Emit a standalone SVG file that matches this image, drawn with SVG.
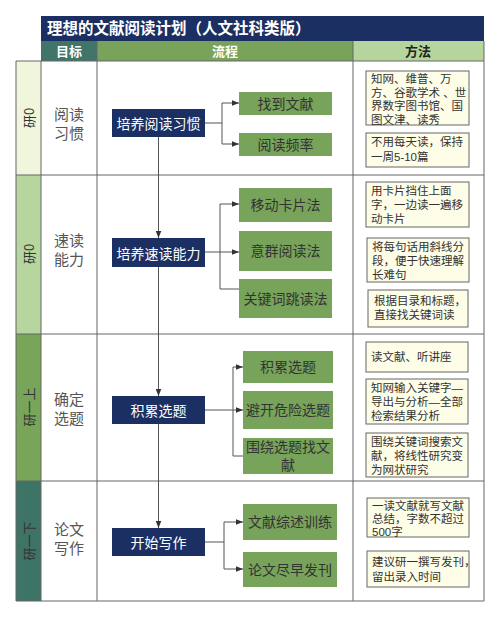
<svg xmlns="http://www.w3.org/2000/svg" width="500" height="618" viewBox="0 0 500 618">
<defs>
<marker id="arr" viewBox="0 0 10 10" refX="10" refY="5" markerWidth="7" markerHeight="7" orient="auto" markerUnits="userSpaceOnUse"><path d="M0,1 L10,5 L0,9 z" fill="#333"/></marker>
<style>
text{font-family:"Noto Sans CJK SC","Noto Sans",sans-serif;}
.grid{stroke:#666;stroke-width:1;fill:none;}
.main rect{fill:#1b2f63;}
.main text{fill:#fff;font-size:14px;text-anchor:middle;dominant-baseline:central;}
.step rect{fill:#77a35a;}
.step text{fill:#333;font-size:14px;text-anchor:middle;dominant-baseline:central;font-family:"Liberation Sans","Noto Sans CJK SC",sans-serif;}
.meth rect{fill:#fdfde8;stroke:#666;stroke-width:1;}
.meth text{fill:#333;font-size:11.5px;font-family:"Liberation Sans","Noto Sans CJK SC",sans-serif;}
.goal{fill:#555;font-size:15px;text-anchor:middle;}
.side{fill:#333;font-size:13px;text-anchor:middle;dominant-baseline:central;}
.conn{stroke:#555;stroke-width:1;fill:none;}
</style>
</defs>
<rect width="500" height="618" fill="#fff"/>
<!-- title & header -->
<g id="title">
<rect x="41" y="16" width="443" height="25" fill="#1b2f63"/>
<text x="47" y="34" fill="#fff" font-size="15.5" font-weight="bold">理想的文献阅读计划（人文社科类版）</text>
</g>
<g id="header">
<rect x="41" y="41" width="56" height="20" fill="#41756a"/>
<rect x="97" y="41" width="256" height="20" fill="#79a35b"/>
<rect x="353" y="41" width="131" height="20" fill="#b6d59c"/>
<text x="69" y="56" fill="#fff" font-size="13" font-weight="bold" text-anchor="middle">目标</text>
<text x="225" y="56" fill="#fff" font-size="13" font-weight="bold" text-anchor="middle">流程</text>
<text x="418" y="56" fill="#222" font-size="13" font-weight="bold" text-anchor="middle">方法</text>
</g>
<!-- side column -->
<g id="side">
<rect x="16" y="61" width="25" height="114" fill="#f0f6dc"/>
<rect x="16" y="175" width="25" height="159" fill="#b7d59e"/>
<rect x="16" y="334" width="25" height="147" fill="#78a55a"/>
<rect x="16" y="481" width="25" height="120" fill="#3e7465"/>
<text class="side" transform="translate(28.5,118) rotate(-90)">研0</text>
<text class="side" transform="translate(28.5,254) rotate(-90)">研0</text>
<text class="side" transform="translate(28.5,407) rotate(-90)">研一上</text>
<text class="side" transform="translate(28.5,541) rotate(-90)">研一下</text>
</g>
<!-- grid -->
<g id="grid" class="grid">
<line x1="16" y1="61" x2="484" y2="61"/>
<line x1="16" y1="175" x2="484" y2="175"/>
<line x1="16" y1="334" x2="484" y2="334"/>
<line x1="16" y1="481" x2="484" y2="481"/>
<line x1="16" y1="601" x2="484" y2="601"/>
<line x1="16" y1="61" x2="16" y2="601"/>
<line x1="41" y1="61" x2="41" y2="601"/>
<line x1="97" y1="41" x2="97" y2="601"/>
<line x1="353" y1="41" x2="353" y2="601"/>
<line x1="484" y1="41" x2="484" y2="601"/>
</g>
<!-- goals -->
<g id="goals">
<text class="goal" x="69" y="120">阅读</text><text class="goal" x="69" y="139">习惯</text>
<text class="goal" x="69" y="246">速读</text><text class="goal" x="69" y="265">能力</text>
<text class="goal" x="69" y="405">确定</text><text class="goal" x="69" y="424">选题</text>
<text class="goal" x="69" y="535">论文</text><text class="goal" x="69" y="554">写作</text>
</g>
<!-- connectors -->
<g id="connectors" class="conn">
<line x1="158.5" y1="137" x2="158.5" y2="238" marker-end="url(#arr)"/>
<line x1="158.5" y1="267" x2="158.5" y2="396" marker-end="url(#arr)"/>
<line x1="158.5" y1="424" x2="158.5" y2="528" marker-end="url(#arr)"/>
<polyline points="205,123 222,123 222,103 239,103" marker-end="url(#arr)"/>
<polyline points="222,123 222,144 239,144" marker-end="url(#arr)"/>
<polyline points="205,252 239,252" marker-end="url(#arr)"/>
<polyline points="220,252 220,204 239,204" marker-end="url(#arr)"/>
<polyline points="220,252 220,289 239,289"/>
<polyline points="205,410 243,410" marker-end="url(#arr)"/>
<polyline points="233,410 233,367 243,367" marker-end="url(#arr)"/>
<polyline points="233,410 233,456 243,456"/>
<polyline points="205,542 224,542 224,522 243,522" marker-end="url(#arr)"/>
<polyline points="224,542 224,569 243,569" marker-end="url(#arr)"/>
</g>
<!-- main nodes -->
<g id="n1" class="main"><rect x="112" y="109" width="93" height="28"/><text x="158.5" y="123">培养阅读习惯</text></g>
<g id="n2" class="main"><rect x="112" y="238" width="93" height="29"/><text x="158.5" y="252.5">培养速读能力</text></g>
<g id="n3" class="main"><rect x="112" y="396" width="93" height="28"/><text x="158.5" y="410">积累选题</text></g>
<g id="n4" class="main"><rect x="112" y="528" width="93" height="28"/><text x="158.5" y="542">开始写作</text></g>
<!-- steps -->
<g id="s1a" class="step"><rect x="239" y="92" width="93" height="23"/><text x="285.5" y="103.5">找到文献</text></g>
<g id="s1b" class="step"><rect x="239" y="133" width="93" height="23"/><text x="285.5" y="144.5">阅读频率</text></g>
<g id="s2a" class="step"><rect x="239" y="188" width="93" height="34"/><text x="285.5" y="205">移动卡片法</text></g>
<g id="s2b" class="step"><rect x="239" y="231" width="93" height="40"/><text x="285.5" y="251">意群阅读法</text></g>
<g id="s2c" class="step"><rect x="239" y="279" width="93" height="39"/><text x="285.5" y="298.5">关键词跳读法</text></g>
<g id="s3a" class="step"><rect x="243" y="351" width="90" height="32"/><text x="288" y="367">积累选题</text></g>
<g id="s3b" class="step"><rect x="243" y="391" width="90" height="38"/><text x="288" y="410">避开危险选题</text></g>
<g id="s3c" class="step"><rect x="243" y="438" width="90" height="36"/><text x="288" y="447">围绕选题找文</text><text x="288" y="465">献</text></g>
<g id="s4a" class="step"><rect x="243" y="504" width="94" height="36"/><text x="290" y="522">文献综述训练</text></g>
<g id="s4b" class="step"><rect x="243" y="552" width="94" height="35"/><text x="290" y="569.5">论文尽早发刊</text></g>
<!-- methods -->
<g id="m1a" class="meth"><rect x="366" y="71" width="103" height="54"/>
<text x="371" y="83">知网、维普、万</text><text x="371" y="96.5">方、谷歌学术 、世</text><text x="371" y="110">界数字图书馆、国</text><text x="371" y="123.5">图文津、读秀</text></g>
<g id="m1b" class="meth"><rect x="366" y="133" width="103" height="34"/>
<text x="371" y="146">不用每天读，保持</text><text x="371" y="161">一周5-10篇</text></g>
<g id="m2a" class="meth"><rect x="366" y="182" width="103" height="45"/>
<text x="371" y="195">用卡片挡住上面</text><text x="371" y="209">字，一边读一遍移</text><text x="371" y="223">动卡片</text></g>
<g id="m2b" class="meth"><rect x="367" y="238" width="102" height="44"/>
<text x="372" y="251">将每句话用斜线分</text><text x="372" y="265">段，便于快速理解</text><text x="372" y="279">长难句</text></g>
<g id="m2c" class="meth"><rect x="368" y="290" width="100" height="37"/>
<text x="374" y="305">根据目录和标题，</text><text x="374" y="319">直接找关键词读</text></g>
<g id="m3a" class="meth"><rect x="366" y="342" width="102" height="30"/>
<text x="371" y="361">读文献、听讲座</text></g>
<g id="m3b" class="meth"><rect x="366" y="379" width="102" height="45"/>
<text x="371" y="392">知网输入关键字—</text><text x="371" y="406">导出与分析—全部</text><text x="371" y="420">检索结果分析</text></g>
<g id="m3c" class="meth"><rect x="366" y="433" width="102" height="44"/>
<text x="371" y="446">围绕关键词搜索文</text><text x="371" y="460">献，将线性研究变</text><text x="371" y="474">为网状研究</text></g>
<g id="m4a" class="meth"><rect x="367" y="498" width="102" height="39"/>
<text x="372" y="510">一读文献就写文献</text><text x="372" y="523">总结，字数不超过</text><text x="372" y="536">500字</text></g>
<g id="m4b" class="meth"><rect x="367" y="551" width="102" height="36"/>
<text x="372" y="566">建议研一撰写发刊，</text><text x="372" y="581">留出录入时间</text></g>
</svg>
